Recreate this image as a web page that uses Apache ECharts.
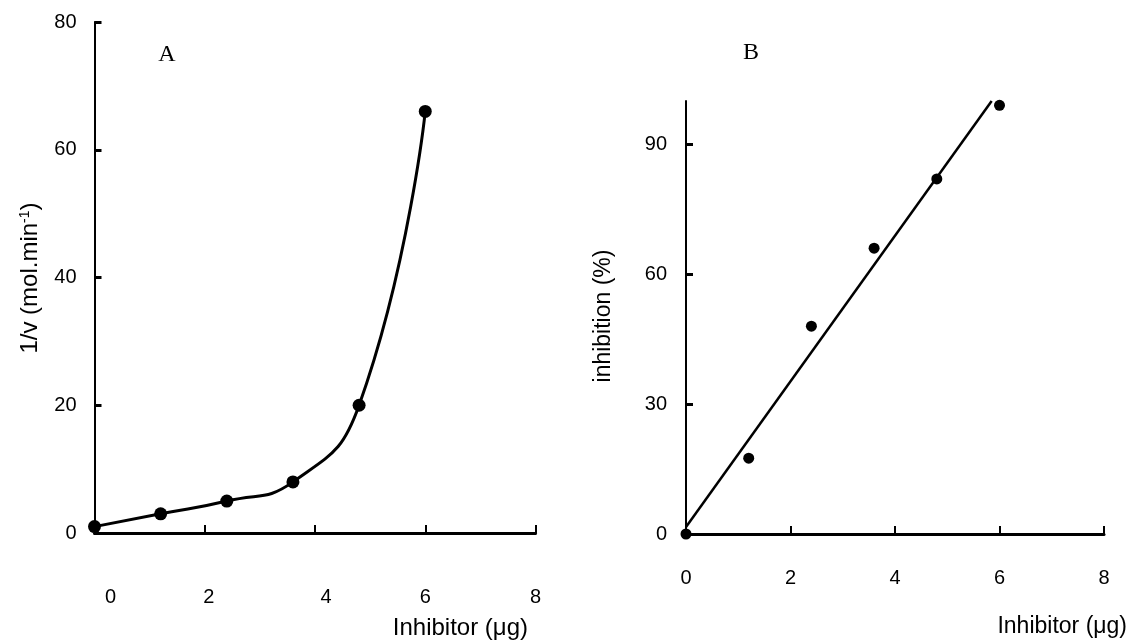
<!DOCTYPE html>
<html>
<head>
<meta charset="utf-8">
<title>Inhibitor effect</title>
<script src="https://cdn.jsdelivr.net/npm/echarts@6/dist/echarts.min.js"></script>
<style>
  html, body { margin: 0; padding: 0; background: #fff; }
  #chart { width: 1128px; height: 640px; }
</style>
</head>
<body>
<div id="chart"></div>
<script>
// Panel A: reciprocal rate against inhibitor amount
const inhibitorA = [0, 1.2, 2.4, 3.6, 4.8, 6.0];
const reciprocalRate = [1, 3, 5, 8, 20, 66];
// Panel B: percent inhibition against inhibitor amount
const inhibitorB = [0, 1.2, 2.4, 3.6, 4.8, 6.0];
const inhibitionPct = [0, 17.5, 48, 66, 82, 99];
// Least-squares line endpoints for panel B
const fitX = [0, 5.85];
const fitY = [1.6, 100];

const xTicks = [0, 2, 4, 6, 8];
const xTickMarks = [2, 4, 6, 8];
const yTicksA = [0, 20, 40, 60, 80];
const yTicksB = [0, 30, 60, 90];

const SANS = "'Liberation Sans', Arial, Helvetica, sans-serif";
const SERIF = "'Liberation Serif', 'Times New Roman', serif";
const INK = '#000';
const TICK_FONT = 20;

const pairs = (xs, ys) => xs.map((x, i) => [x, ys[i]]);

// small horizontal nudges of the panel A x labels
const labelNudgeA = { 0: 32, 2: 8, 4: 22, 6: 0, 8: 0 };
const richA = {};
Object.keys(labelNudgeA).forEach(k => {
  richA['t' + k] = { fontFamily: SANS, fontSize: TICK_FONT, color: INK, padding: [0, 0, 0, labelNudgeA[k]] };
});

function xAxisCfg(gridIndex, margin, rich) {
  return {
    type: 'value', gridIndex, min: 0, max: 8, interval: 2,
    splitLine: { show: false },
    axisLine: { show: true, onZero: false, lineStyle: { color: INK, width: 3 } },
    axisTick: { show: true, inside: true, length: 8, customValues: xTickMarks, lineStyle: { color: INK, width: 2 } },
    axisLabel: Object.assign({
      customValues: xTicks, margin, color: INK, fontFamily: SANS, fontSize: TICK_FONT
    }, rich ? { formatter: v => `{t${v}|${v}}`, rich } : {})
  };
}

function yAxisCfg(gridIndex, max, ticks, margin) {
  return {
    type: 'value', gridIndex, min: 0, max,
    interval: ticks[1] - ticks[0],
    splitLine: { show: false },
    axisLine: { show: true, onZero: false, lineStyle: { color: INK, width: 2 } },
    axisTick: { show: true, inside: true, length: 7, customValues: ticks, lineStyle: { color: INK, width: 3 } },
    axisLabel: { customValues: ticks, margin, color: INK, fontFamily: SANS, fontSize: TICK_FONT }
  };
}

const chart = echarts.init(document.getElementById('chart'), null, { renderer: 'canvas' });

chart.setOption({
  backgroundColor: '#fff',
  animation: false,
  grid: [
    { left: 94.5, top: 22, width: 441, height: 511, outerBoundsMode: 'none', containLabel: false },
    { left: 686, top: 101, width: 418, height: 433, outerBoundsMode: 'none', containLabel: false }
  ],
  xAxis: [
    xAxisCfg(0, 54, richA),
    xAxisCfg(1, 34, null)
  ],
  yAxis: [
    yAxisCfg(0, 80, yTicksA, 18),
    yAxisCfg(1, 100, yTicksB, 19)
  ],
  series: [
    {
      type: 'line', xAxisIndex: 0, yAxisIndex: 0,
      data: pairs(inhibitorA, reciprocalRate),
      smooth: true, clip: false,
      symbol: 'circle', symbolSize: 13,
      lineStyle: { color: INK, width: 3 },
      itemStyle: { color: INK, opacity: 1 }
    },
    {
      type: 'line', xAxisIndex: 1, yAxisIndex: 1,
      data: pairs(fitX, fitY),
      showSymbol: false, symbol: 'none', clip: false,
      lineStyle: { color: INK, width: 2.5 }
    },
    {
      type: 'scatter', xAxisIndex: 1, yAxisIndex: 1,
      data: pairs(inhibitorB, inhibitionPct),
      symbol: 'circle', symbolSize: 11, clip: false,
      itemStyle: { color: INK, opacity: 1 }
    }
  ],
  graphic: [
    { type: 'text', x: 167, y: 55, style: { text: 'A', font: `24px ${SERIF}`, fill: INK, align: 'center', verticalAlign: 'middle' } },
    { type: 'text', x: 751, y: 53, style: { text: 'B', font: `24px ${SERIF}`, fill: INK, align: 'center', verticalAlign: 'middle' } },
    {
      type: 'text', x: 30, y: 278, rotation: Math.PI / 2,
      style: {
        text: '1/v (mol.min{sup|-1})',
        font: `24px ${SANS}`, fill: INK, align: 'center', verticalAlign: 'middle',
        rich: { sup: { fontFamily: SANS, fontSize: 14, fill: INK, verticalAlign: 'top' } }
      }
    },
    {
      type: 'text', x: 604, y: 316, rotation: Math.PI / 2,
      style: { text: 'inhibition (%)', font: `23px ${SANS}`, fill: INK, align: 'center', verticalAlign: 'middle' }
    },
    { type: 'text', x: 528, y: 628, style: { text: 'Inhibitor (\u03bcg)', font: `24px ${SANS}`, fill: INK, align: 'right', verticalAlign: 'middle' } },
    { type: 'text', x: 1127, y: 627, style: { text: 'Inhibitor (\u03bcg)', font: `23px ${SANS}`, fill: INK, align: 'right', verticalAlign: 'middle' } }
  ]
});
</script>
</body>
</html>
